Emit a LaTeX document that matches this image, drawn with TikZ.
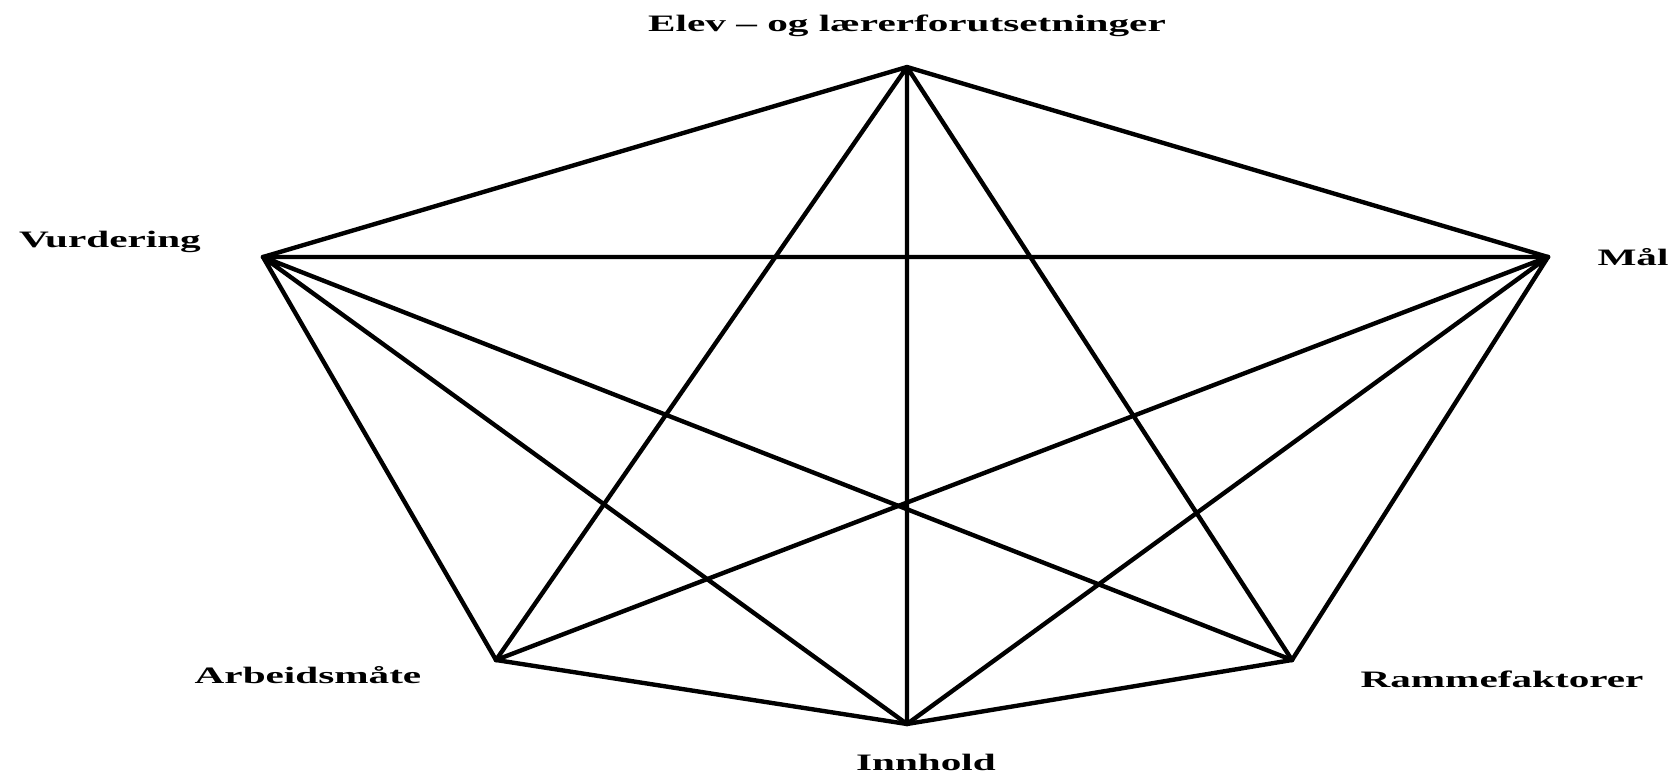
\documentclass[tikz,border=0pt]{standalone}
\usepackage{fontspec}
\usepackage{tikz}
\usetikzlibrary{positioning}
\newfontfamily\lblfont[FakeStretch=1.75,Ligatures=TeX]{Liberation Serif}

\begin{document}
\begin{tikzpicture}[x=0.02cm, y=-0.02cm,
    lbl/.style={inner sep=0pt, anchor=base, font=\lblfont\bfseries\fontsize{13.4}{15}\selectfont},
    edge/.style={line width=2.5pt, line cap=round, line join=round}]
  \useasboundingbox (0,0) rectangle (1677,775);
  % corners of the figure
  \coordinate (elev) at (907,67);
  \coordinate (vurd) at (263,257);
  \coordinate (maal) at (1548,257);
  \coordinate (arb) at (496,660);
  \coordinate (ramme) at (1292,660);
  \coordinate (innh) at (907,724);
  % texts
  \node[lbl] (elevtxt) at (907,31) {Elev – og lærerforutsetninger};
  \node[lbl] (vurdtxt) at (110,247) {Vurdering};
  \node[lbl] (maaltxt) at (1633,265) {Mål};
  \node[lbl] (arbtxt) at (308,683) {Arbeidsmåte};
  \node[lbl] (rammetxt) at (1502,687) {Rammefaktorer};
  \node[lbl] (innhtxt) at (926,770) {Innhold};
  % lines
  \draw[edge] (elev) -- (vurd) (elev) -- (maal) (elev) -- (arb)
    (elev) -- (ramme) (elev) -- (innh);
  \draw[edge] (vurd) -- (maal) (vurd) -- (arb) (vurd) -- (ramme) (vurd) -- (innh);
  \draw[edge] (maal) -- (arb) (maal) -- (ramme) (maal) -- (innh);
  \draw[edge] (arb) -- (innh) (ramme) -- (innh);
\end{tikzpicture}
\end{document}
